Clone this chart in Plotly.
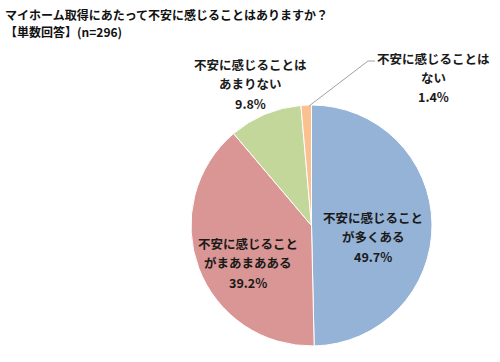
import plotly.graph_objects as go

# Data
categories = ["不安に感じることが多くある", "不安に感じることがまあまあある", "不安に感じることはあまりない", "不安に感じることはない"]
label_lines = [["不安に感じること", "が多くある"], ["不安に感じること", "がまあまあある"], ["不安に感じることは", "あまりない"], ["不安に感じることは", "ない"]]
values = [49.7, 39.2, 9.8, 1.4]
title_lines = ["マイホーム取得にあたって不安に感じることはありますか？", "【単数回答】(n=296)"]

W, H = 500, 362
colors = ["#95B3D7", "#D99694", "#C4D79B", "#FAC090"]
FONT = "Noto Sans CJK JP"

fig = go.Figure(go.Pie(
    labels=categories, values=values, sort=False, direction="clockwise", rotation=0,
    marker=dict(colors=colors, line=dict(color="#ffffff", width=1)),
    textinfo="none", hoverinfo="label+percent", showlegend=False,
    domain=dict(x=[191 / W, 432 / W], y=[1 - 346 / H, 1 - 105 / H]),
))

# label positions (pixel centre of first line), line step
label_pos = [(373, 217), (248, 243), (250, 64), (433, 58)]
STEP = 19.5
anns = []
for lines, v, (px, py) in zip(label_lines, values, label_pos):
    for i, t in enumerate(lines + [f"{v:.1f}%"]):
        anns.append(dict(x=px / W, y=1 - (py + i * STEP) / H, xref="paper", yref="paper", text=t,
                         showarrow=False, xanchor="center", yanchor="middle", align="center",
                         font=dict(family=FONT, size=12.5, color="#1a1a1a", weight="bold")))
anns.append(dict(x=3 / W, y=1 - 14 / H, xref="paper", yref="paper", text=title_lines[0],
                 showarrow=False, xanchor="left", yanchor="middle",
                 font=dict(family=FONT, size=12, color="#111", weight="bold")))
anns.append(dict(x=3 / W, y=1 - 31 / H, xref="paper", yref="paper", text=title_lines[1],
                 showarrow=False, xanchor="left", yanchor="middle",
                 font=dict(family=FONT, size=12, color="#111", weight="bold")))

shapes = [
    dict(type="path", xref="paper", yref="paper",
         path=f"M {375/W} {1-61/H} L {368/W} {1-61/H} L {309/W} {1-106/H}",
         line=dict(color="#a0a0a0", width=1)),
]

fig.update_layout(width=W, height=H, margin=dict(l=0, r=0, t=0, b=0),
                  paper_bgcolor="white", plot_bgcolor="white",
                  annotations=anns, shapes=shapes)
fig.write_html("out.html", config={"displayModeBar": False},
               post_script="document.body.style.margin='0';document.body.style.overflow='hidden';")
